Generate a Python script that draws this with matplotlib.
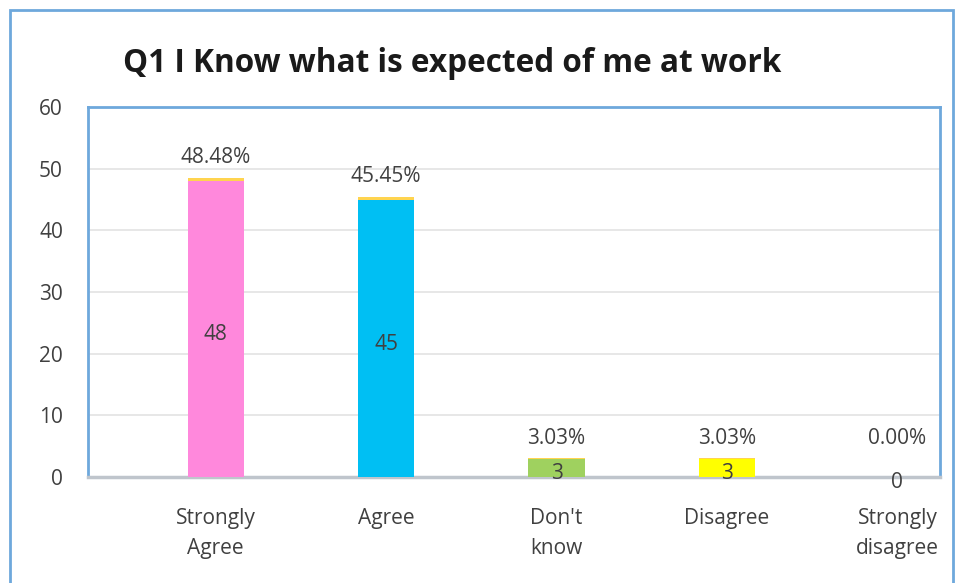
import matplotlib.pyplot as plt
from matplotlib.patches import Rectangle

# survey responses for Q1
categories = ['Strongly\nAgree', 'Agree', "Don't\nknow", 'Disagree', 'Strongly\ndisagree']
counts = [48, 45, 3, 3, 0]
shares = [0.4848, 0.4545, 0.0303, 0.0303, 0.0]
pct_labels = ['48.48%', '45.45%', '3.03%', '3.03%', '0.00%']
bar_colors = ['#FF88DC', '#00BFF3', '#9FD15F', '#FFFF00', '#FFC000']
share_color = '#FFD44F'

plt.rcParams['font.family'] = ['Open Sans', 'DejaVu Sans']
txt = '#404040'
fs = 15

fig = plt.figure(figsize=(9.56, 5.83), dpi=100)
W, H = 956, 583
ax = fig.add_axes([88 / W, 1 - 477 / H, (940 - 88) / W, (477 - 107) / H])

x = list(range(len(categories)))
ax.bar(x, counts, width=0.33, color=bar_colors, zorder=3)
ax.bar(x, shares, width=0.33, bottom=counts, color=share_color, zorder=3)

for i in x:
    # zero bars get their percent lifted clear of the count label
    lift = 20 if counts[i] == 0 else 7
    ax.annotate(pct_labels[i], (i, counts[i] + shares[i]), xytext=(0, lift),
                textcoords='offset points', ha='center', va='bottom',
                fontsize=fs, color=txt)
    ax.annotate(str(counts[i]), (i, counts[i] / 2), xytext=(0, -2.5),
                textcoords='offset points', ha='center', va='center_baseline',
                fontsize=fs, color=txt, zorder=4)

ax.set_xlim(-0.75, 4.25)
ax.set_ylim(0, 60)
ax.set_yticks(range(0, 61, 10))
ax.set_xticks(x)
ax.set_xticklabels(categories, fontsize=fs, color=txt, linespacing=1.6)
ax.tick_params(axis='y', length=0, pad=18, labelsize=fs, labelcolor=txt)
ax.tick_params(axis='x', length=0, pad=22)
ax.grid(axis='y', color='#E3E3E3', linewidth=1.2, zorder=0)

for side in ['top', 'left', 'right']:
    ax.spines[side].set_color('#6EA8DC')
    ax.spines[side].set_linewidth(2)
ax.spines['bottom'].set_color('#BFC5CC')
ax.spines['bottom'].set_linewidth(2.5)

fig.text(452 / W, 1 - 63 / H, 'Q1 I Know what is expected of me at work',
         ha='center', va='center', fontsize=22.7, fontweight='bold', color='#1A1A1A')

# outer chart frame
fig.patches.append(Rectangle((10 / W, -0.05), (953 - 10) / W, 1.05 - 10 / H,
                             transform=fig.transFigure, fill=False,
                             edgecolor='#6EA8DC', linewidth=2))

fig.savefig('out.png', dpi=100)
